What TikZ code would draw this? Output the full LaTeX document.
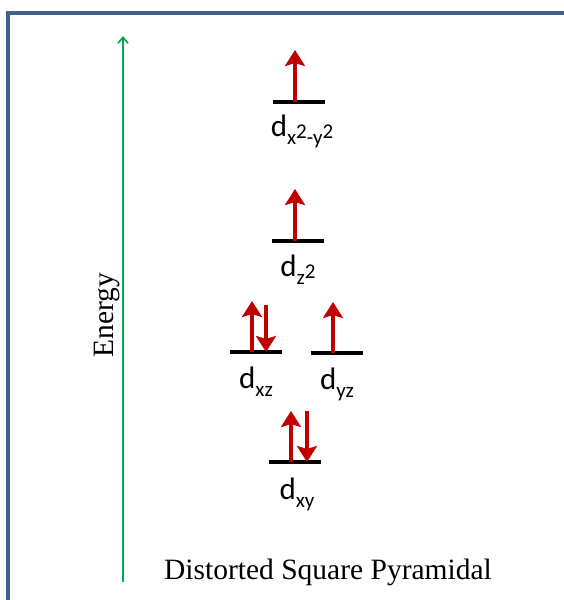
\documentclass[tikz,border=0pt]{standalone}
\usepackage{fontspec}
\setmainfont{Liberation Serif}
\newfontfamily\labfont{Carlito}
\usetikzlibrary{arrows.meta}
\definecolor{framecol}{RGB}{65,98,140}
\definecolor{energycol}{RGB}{0,166,81}
\definecolor{spincol}{RGB}{192,0,0}
\tikzset{
  level/.style={line width=3.5pt, black},
  spinup/.style={line width=3.5pt, spincol, -{Stealth[length=16pt, width=20pt, inset=3pt]}},
  orblabel/.style={anchor=base, inner sep=0pt, font=\labfont\fontsize{31}{33}\selectfont},
  serifbig/.style={inner sep=0pt, font=\fontsize{29.5}{32}\selectfont}
}
\newcommand{\sbs}[1]{\raisebox{-8.5pt}{\fontsize{21}{21}\selectfont #1}}
\begin{document}
\begin{tikzpicture}[x=1pt,y=-1pt]
\useasboundingbox (0,0) rectangle (564,600);
% frame
\draw[framecol, line width=4pt] (8,602) -- (8,13) -- (566,13);
% energy axis
\coordinate (ebot) at (123,582);
\coordinate (etop) at (123,36);
\draw[energycol, line width=1.6pt, -{Straight Barb[length=6pt, width=10pt]}] (ebot) -- (etop);
\node[serifbig, rotate=90, anchor=base] (energy) at (113,315) {Energy};
\node[serifbig, anchor=base] (title) at (328,579) {Distorted Square Pyramidal};
% level 1: dx2-y2
\coordinate (l1a) at (273,102); \coordinate (l1b) at (325,102);
\draw[level] (l1a) -- (l1b);
\coordinate (u1s) at (295,102); \coordinate (u1t) at (295,50);
\draw[spinup] (u1s) -- (u1t);
\node[orblabel] (lab1) at (302,136) {d\sbs{x\raisebox{6pt}{2}-y\raisebox{6pt}{2}}};
% level 2: dz2
\coordinate (l2a) at (272,241); \coordinate (l2b) at (324,241);
\draw[level] (l2a) -- (l2b);
\coordinate (u2s) at (295,241); \coordinate (u2t) at (295,189);
\draw[spinup] (u2s) -- (u2t);
\node[orblabel] (lab2) at (298,276) {d\sbs{z\raisebox{6pt}{2}}};
% level 3: dxz
\coordinate (l3a) at (230,352); \coordinate (l3b) at (282,352);
\draw[level] (l3a) -- (l3b);
\coordinate (u3s) at (252,352); \coordinate (u3t) at (252,301);
\draw[spinup] (u3s) -- (u3t);
\coordinate (d3s) at (266,305); \coordinate (d3t) at (266,352);
\draw[spinup] (d3s) -- (d3t);
\node[orblabel] (lab3) at (256,388) {d\sbs{xz}};
% level 4: dyz
\coordinate (l4a) at (311,353); \coordinate (l4b) at (363,353);
\draw[level] (l4a) -- (l4b);
\coordinate (u4s) at (333,353); \coordinate (u4t) at (333,302);
\draw[spinup] (u4s) -- (u4t);
\node[orblabel] (lab4) at (337,389) {d\sbs{yz}};
% level 5: dxy
\coordinate (l5a) at (269,462); \coordinate (l5b) at (321,462);
\draw[level] (l5a) -- (l5b);
\coordinate (u5s) at (291,462); \coordinate (u5t) at (291,411);
\draw[spinup] (u5s) -- (u5t);
\coordinate (d5s) at (307,411); \coordinate (d5t) at (307,462);
\draw[spinup] (d5s) -- (d5t);
\node[orblabel] (lab5) at (297,499) {d\sbs{xy}};
\end{tikzpicture}
\end{document}
